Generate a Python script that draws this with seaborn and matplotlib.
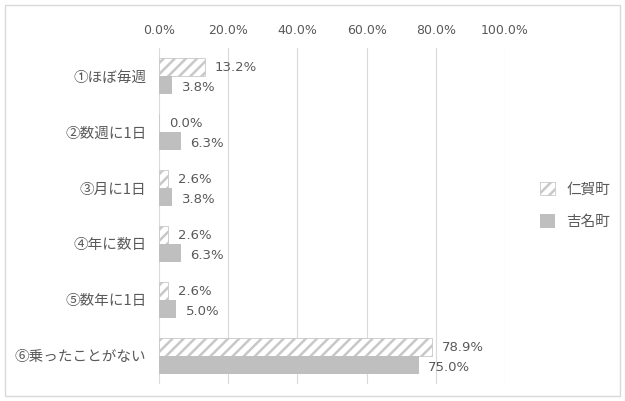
import pandas as pd
import matplotlib.pyplot as plt
import matplotlib.ticker as mticker
from matplotlib.patches import Rectangle, Patch
import seaborn as sns

categories = ["①ほぼ毎週", "②数週に1日", "③月に1日", "④年に数日", "⑤数年に1日", "⑥乗ったことがない"]
nika = [13.2, 0.0, 2.6, 2.6, 2.6, 78.9]
yoshina = [3.8, 6.3, 3.8, 6.3, 5.0, 75.0]
towns = ["仁賀町", "吉名町"]
xticks = [0, 20, 40, 60, 80, 100]

df = pd.DataFrame({
    "cat": categories * 2,
    "val": nika + yoshina,
    "town": [towns[0]] * len(categories) + [towns[1]] * len(categories),
})

sns.set_theme(style="white")
plt.rcParams["font.family"] = ["Noto Sans CJK JP", "DejaVu Sans"]
plt.rcParams["hatch.linewidth"] = 1.8
GRAY = "#bfbfbf"
TXT = "#595959"

fig = plt.figure(figsize=(6.25, 4.01), dpi=100)
ax = fig.add_axes([0.2544, 0.0424, 0.5536, 0.8379])

sns.barplot(data=df, y="cat", x="val", hue="town", orient="h",
            palette=["white", GRAY], width=0.64, ax=ax, legend=False,
            saturation=1)

# first series: white with diagonal hatch
for bar in ax.containers[0]:
    bar.set_hatch("///")
    bar.set_edgecolor("#c8c8c8")
    bar.set_linewidth(0.6)
for bar in ax.containers[1]:
    bar.set_edgecolor("none")

# data labels
for i, cont in enumerate(ax.containers):
    vals = nika if i == 0 else yoshina
    for bar, v in zip(cont, vals):
        y = bar.get_y() + bar.get_height() / 2
        dy = 0 if i == 0 else -1.5
        ax.annotate(f"{v:.1f}%", xy=(v, y), xytext=(7, dy),
                    textcoords="offset points", va="center", ha="left",
                    fontsize=9.5, color=TXT, family="DejaVu Sans")

ax.set_xlim(0, 100)
ax.set_ylim(5.5, -0.5)
ax.set_xticks(xticks)
ax.xaxis.set_major_formatter(mticker.FuncFormatter(lambda x, _: f"{x:.1f}%"))
ax.xaxis.tick_top()
ax.tick_params(axis="x", length=0, pad=8, labelsize=9, labelcolor=TXT)
ax.tick_params(axis="y", length=0, pad=9, labelsize=10.5, labelcolor=TXT)
for lab in ax.get_xticklabels():
    lab.set_family("DejaVu Sans")
ax.grid(axis="x", color="#d9d9d9", linewidth=0.8)
ax.set_axisbelow(True)
for s in ax.spines.values():
    s.set_visible(False)
ax.set_xlabel("")
ax.set_ylabel("")

handles = [Patch(facecolor="white", edgecolor="#c8c8c8", hatch="///", linewidth=0.6),
           Patch(facecolor=GRAY, edgecolor="none")]
fig.legend(handles, towns, loc="center left", bbox_to_anchor=(0.843, 0.487),
           frameon=False, fontsize=10.5, labelcolor=TXT, handlelength=1.0,
           handleheight=1.0, labelspacing=1.2, handletextpad=0.8)

# chart-area border
fig.patches.append(Rectangle((0.008, 0.012), 0.984, 0.975, transform=fig.transFigure,
                             fill=False, edgecolor="#d9d9d9", linewidth=1))

plt.savefig("out.png", dpi=100)
